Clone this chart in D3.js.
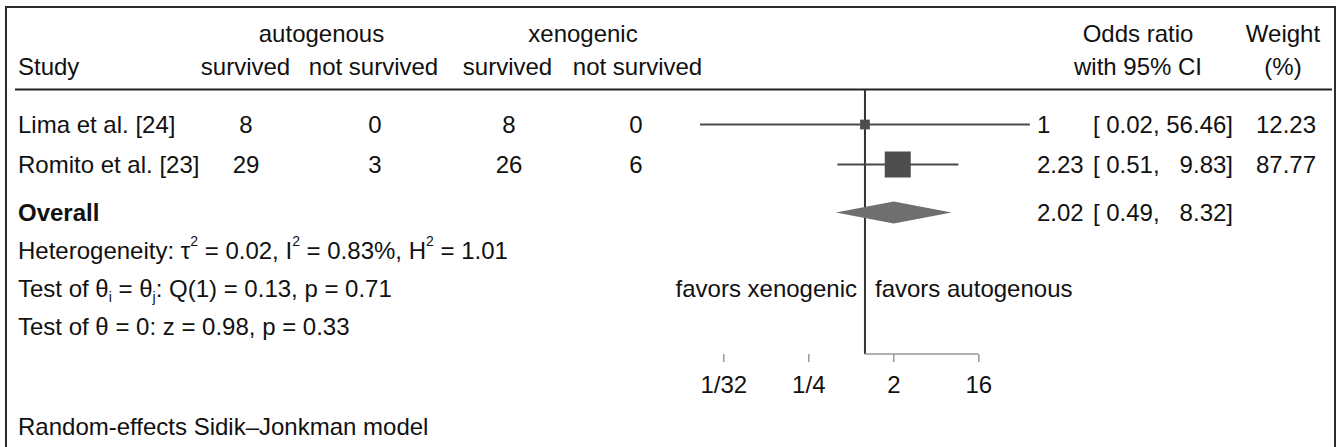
<!DOCTYPE html>
<html>
<head>
<meta charset="utf-8">
<script src="https://cdn.jsdelivr.net/npm/d3@7"></script>
<style>
  body { margin: 0; background: #fff; }
  text { font-family: "Liberation Sans", Arial, sans-serif; font-size: 24px; fill: #111; }
</style>
</head>
<body>
<div id="chart"></div>
<script>
// forest plot data
var studies = ["Lima et al. [24]", "Romito et al. [23]"];
var autoSurvived = [8, 29];
var autoNotSurvived = [0, 3];
var xenoSurvived = [8, 26];
var xenoNotSurvived = [0, 6];
var oddsRatio = [1, 2.23];
var ciLow = [0.0177, 0.51];
var ciHigh = [56.46, 9.83];
var weights = [12.23, 87.77];
var overallOR = 2.02, overallLow = 0.49, overallHigh = 8.32;
var axisTicks = [1/32, 1/4, 2, 16];
var axisTickLabels = ["1/32", "1/4", "2", "16"];

var width = 1340, height = 447;
var svg = d3.select("#chart").append("svg")
  .attr("width", width).attr("height", height);

// frame + header rule
svg.append("path")
  .attr("d", "M6,447V7H1335V447")
  .attr("fill", "none").attr("stroke", "#2b2b2b").attr("stroke-width", 2);
svg.append("line")
  .attr("x1", 15).attr("x2", 1332).attr("y1", 89.5).attr("y2", 89.5)
  .attr("stroke", "#222").attr("stroke-width", 2);

var x = d3.scaleLog().base(2).domain([1/32, 16]).range([723.3, 978.3]);
var size = d3.scaleSqrt().domain([0, 87.77]).range([0, 26]);

var rowY = [124.5, 164.5];
var overallY = 212.5;
var base = 8.5; // cap-centre to baseline

function txt(x0, y0, s, anchor) {
  return svg.append("text").attr("x", x0).attr("y", y0)
    .attr("text-anchor", anchor || "start").text(s);
}

// column headers
var cols = [246, 375, 509, 636];
txt(321.5, 42, "autogenous", "middle");
txt(583, 42, "xenogenic", "middle");
txt(18, 75, "Study");
txt(245.5, 75, "survived", "middle");
txt(373.5, 75, "not survived", "middle");
txt(507.5, 75, "survived", "middle");
txt(637.5, 75, "not survived", "middle");
txt(1138, 42, "Odds ratio", "middle");
txt(1138, 75, "with 95% CI", "middle");
txt(1283, 42, "Weight", "middle");
txt(1283, 75, "(%)", "middle");

// null line
svg.append("line")
  .attr("x1", x(1)).attr("x2", x(1)).attr("y1", 90).attr("y2", 354)
  .attr("stroke", "#333").attr("stroke-width", 2);

function fmt(v) { return v === Math.round(v) ? String(v) : v.toFixed(2); }
// stata-like CI string, short numbers padded with spaces (2 spaces ~ 1 digit)
function ciText(lo, hi) {
  var h = hi.toFixed(2);
  var pad = h.length < 5 ? "   " : " ";
  return "[ " + lo.toFixed(2) + "," + pad + h + "]";
}

studies.forEach(function (s, i) {
  var y = rowY[i];
  txt(18, y + base, s);
  [autoSurvived[i], autoNotSurvived[i], xenoSurvived[i], xenoNotSurvived[i]].forEach(function (v, j) {
    txt(cols[j], y + base, v, "middle");
  });
  svg.append("line")
    .attr("x1", x(ciLow[i])).attr("x2", x(ciHigh[i])).attr("y1", y).attr("y2", y)
    .attr("stroke", "#4a4a4a").attr("stroke-width", 1.8);
  var sz = size(weights[i]);
  svg.append("rect")
    .attr("x", x(oddsRatio[i]) - sz / 2).attr("y", y - sz / 2)
    .attr("width", sz).attr("height", sz).attr("fill", "#4d4d4d");
  txt(1037, y + base, fmt(oddsRatio[i]));
  txt(1233, y + base, ciText(ciLow[i], ciHigh[i]), "end").style("white-space", "pre");
  txt(1316, y + base, weights[i].toFixed(2), "end");
});

// overall row
txt(18, overallY + base, "Overall").style("font-weight", "bold");
svg.append("path")
  .attr("d", "M" + x(overallLow) + "," + overallY +
             "L" + x(overallOR) + "," + (overallY - 11) +
             "L" + x(overallHigh) + "," + overallY +
             "L" + x(overallOR) + "," + (overallY + 11) + "Z")
  .attr("fill", "#6f6f6f");
txt(1037, overallY + base, fmt(overallOR));
txt(1233, overallY + base, ciText(overallLow, overallHigh), "end").style("white-space", "pre");

// heterogeneity / tests
var t1 = txt(18, 250 + base, "Heterogeneity: τ");
t1.append("tspan").attr("dy", -13).style("font-size", "14px").text("2");
t1.append("tspan").attr("dy", 13).text(" = 0.02, I");
t1.append("tspan").attr("dy", -13).style("font-size", "14px").text("2");
t1.append("tspan").attr("dy", 13).text(" = 0.83%, H");
t1.append("tspan").attr("dy", -13).style("font-size", "14px").text("2");
t1.append("tspan").attr("dy", 13).text(" = 1.01");

var t2 = txt(18, 288 + base, "Test of θ");
t2.append("tspan").attr("dy", 5).style("font-size", "14px").text("i");
t2.append("tspan").attr("dy", -5).text(" = θ");
t2.append("tspan").attr("dy", 5).style("font-size", "14px").text("j");
t2.append("tspan").attr("dy", -5).text(": Q(1) = 0.13, p = 0.71");

txt(18, 326 + base, "Test of θ = 0: z = 0.98, p = 0.33");
txt(18, 435, "Random-effects Sidik–Jonkman model");

// favors labels
txt(857, 288 + base, "favors xenogenic", "end");
txt(875, 288 + base, "favors autogenous");

// axis
svg.append("line")
  .attr("x1", x(1)).attr("x2", x(16)).attr("y1", 354).attr("y2", 354)
  .attr("stroke", "#999").attr("stroke-width", 1.5);
var axis = svg.append("g").attr("transform", "translate(0,354)")
  .call(d3.axisBottom(x).tickValues(axisTicks)
    .tickFormat(function (d, i) { return axisTickLabels[i]; })
    .tickSize(8).tickPadding(14));
axis.select(".domain").remove();
axis.selectAll("line").attr("stroke", "#999").attr("stroke-width", 1.5);
axis.selectAll("text").attr("font-size", null).attr("font-family", null)
  .style("font-size", "24px").attr("fill", "#111");
</script>
</body>
</html>
